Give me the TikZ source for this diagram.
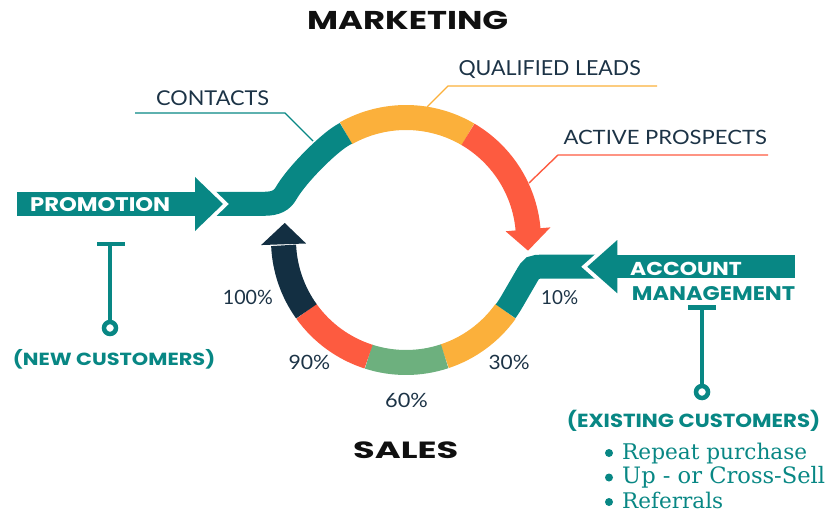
\documentclass[tikz,border=0pt]{standalone}
\usepackage{fontspec}
\usepackage{graphicx}
\usetikzlibrary{calc}

\newfontfamily\lblfont{Lato}
\newfontfamily\hvyfont{Poppins}
\newfontfamily\listfont{DejaVu Serif}

\definecolor{cTeal}{HTML}{088784}
\definecolor{cOrange}{HTML}{FBB03B}
\definecolor{cRed}{HTML}{FD5B40}
\definecolor{cGreen}{HTML}{6DB07E}
\definecolor{cNavy}{HTML}{132F42}
\definecolor{cInk}{HTML}{1C3346}
\definecolor{cBlack}{HTML}{101010}

% scale a piece of text to a given width and height (in pt)
\newcommand\fitbox[3]{\resizebox{#1pt}{#2pt}{#3}}

\begin{document}
\begin{tikzpicture}[x=1pt,y=-1pt,
  seg/.style={line width=25pt},
  band/.style={line width=24pt, cTeal},
  callout/.style={line width=1.4pt},
  tbar/.style={line width=4.5pt, cTeal},
  lbl/.style={inner sep=0pt, anchor=base west},
  head/.style={lbl, text=cBlack},
  tag/.style={lbl, text=cInk}]
\useasboundingbox (0,0) rectangle (829,513);

\coordinate (O) at (406,240);

% ---- cycle ring (upper half) ----
\draw[seg, cOrange] ($(O)+(-119.4:122.5)$) arc[start angle=-119.4, end angle=-59.6, radius=122.5];
\draw[seg, cRed]    ($(O)+(-59.6:122.5)$) arc[start angle=-59.6, end angle=-4, radius=122.5];
\fill[cRed] ($(O)+(-5:100)$) -- ($(O)+(5:122.5)$) -- ($(O)+(-5:145)$) -- cycle;

% ---- cycle ring (lower half) ----
\draw[seg, cOrange] ($(O)+(71.6:122.5)$) arc[start angle=71.6, end angle=35.6, radius=122.5];
\draw[seg, cGreen]  ($(O)+(107.8:122.5)$) arc[start angle=107.8, end angle=71.6, radius=122.5];
\draw[seg, cRed]    ($(O)+(144.4:122.5)$) arc[start angle=144.4, end angle=107.8, radius=122.5];
\draw[seg, cNavy]   ($(O)+(144.4:122.5)$) arc[start angle=144.4, end angle=177.5, radius=122.5];
\fill[cNavy] ($(O)+(178:100)$) -- ($(O)+(188:122.5)$) -- ($(O)+(178:145)$) -- cycle;

% ---- incoming bands, each merging into the ring ----
\draw[band] (205,203.8) -- (264,203.8) .. controls (276,203.8) and (282,200.3) .. (286,193.4)
  .. controls (297,174.3) and (327.5,144.6) .. ($(O)+(-122:122.5)$)
  arc[start angle=-122, end angle=-119.4, radius=122.5];
\draw[band] ($(O)+(35.6:122.5)$) arc[start angle=35.6, end angle=30, radius=122.5]
  -- (526.1,277.1) .. controls (532.1,266.7) .. (544.1,266.7) -- (600,266.7);

% ---- promotion arrow ----
\draw[white, line width=8pt, line join=miter] (195,177) -- (223,204) -- (195,231) -- cycle;
\fill[cTeal] (17,192) rectangle (195,215.5);
\fill[cTeal] (195,177) -- (223,204) -- (195,231) -- cycle;

% ---- account management arrow ----
\draw[white, line width=8pt, line join=miter] (617.3,240) -- (587.3,266.7) -- (617.3,293.3) -- cycle;
\fill[cTeal] (617.3,255) rectangle (795,278.3);
\fill[cTeal] (617.3,240) -- (587.3,266.7) -- (617.3,293.3) -- cycle;

% ---- T markers ----
\draw[tbar] (97,244) -- (125,244);
\draw[tbar] (110,244) -- (110,322);
\draw[tbar] (110,328) circle[radius=6];
\draw[tbar] (688,307.3) -- (716,307.3);
\draw[tbar] (702,307.3) -- (702,386);
\draw[tbar] (702,392) circle[radius=6];

% ---- callout lines ----
\coordinate (cA) at (135,113);   \coordinate (cB) at (285,113);   \coordinate (cC) at (313,141);
\coordinate (qA) at (427,107);   \coordinate (qB) at (448,86);    \coordinate (qC) at (657,86);
\coordinate (aA) at (768,155);   \coordinate (aB) at (558,155);   \coordinate (aC) at (529,183);
\draw[callout, cTeal]   (cA) -- (cB) -- (cC);
\draw[callout, cOrange] (qA) -- (qB) -- (qC);
\draw[callout, cRed]    (aA) -- (aB) -- (aC);

% ---- headings ----
\node[head] (marketing) at (307,30)    {\fitbox{201}{18.3}{\hvyfont\bfseries MARKETING}};
\node[head] (sales)     at (353,458.3) {\fitbox{105}{16.7}{\hvyfont\bfseries SALES}};

% ---- stage labels ----
\node[tag] (contacts)  at (156,105.5) {\fitbox{113}{14.8}{\lblfont CONTACTS}};
\node[tag] (qualified) at (458.3,76)  {\fitbox{182.3}{15}{\lblfont QUALIFIED LEADS}};
\node[tag] (active)    at (563.3,145) {\fitbox{203.3}{14.3}{\lblfont ACTIVE PROSPECTS}};

% ---- percentages ----
\node[tag] (p100) at (222.7,304.3) {\fitbox{50}{14.3}{\lblfont 100\%}};
\node[tag] (p90)  at (288.3,369.3) {\fitbox{41.7}{14.3}{\lblfont 90\%}};
\node[tag] (p60)  at (385,407.7)   {\fitbox{42.7}{14.3}{\lblfont 60\%}};
\node[tag] (p30)  at (488.3,369.3) {\fitbox{41}{14.3}{\lblfont 30\%}};
\node[tag] (p10)  at (541,304)     {\fitbox{37}{14}{\lblfont 10\%}};

% ---- arrow captions ----
\node[lbl, text=white] (promo)   at (30,211.7)    {\fitbox{140}{14}{\hvyfont\bfseries PROMOTION}};
\node[lbl, text=white] (account) at (630,275)     {\fitbox{111.7}{13.3}{\hvyfont\bfseries ACCOUNT}};
\node[lbl, text=cTeal] (manage)  at (631.7,300.7) {\fitbox{163.3}{14}{\hvyfont\bfseries MANAGEMENT}};

\node[lbl, text=cTeal] (newc)  at (12.7,365)   {\fitbox{202.3}{12.5}{\hvyfont\bfseries\smash{(}NEW CUSTOMERS\smash{)}}};
\node[lbl, text=cTeal] (existc) at (566.7,427.5) {\fitbox{253.3}{13.5}{\hvyfont\bfseries\smash{(}EXISTING CUSTOMERS\smash{)}}};

% ---- existing customer list ----
\foreach \yy in {453,477.5,502} \fill[cTeal] (609,\yy) circle[radius=4];
\node[lbl, text=cTeal] (li1) at (622,459) {\resizebox{185pt}{!}{\listfont Repeat purchase}};
\node[lbl, text=cTeal] (li2) at (622,483.5) {\resizebox{203pt}{!}{\listfont Up - or Cross-Sell}};
\node[lbl, text=cTeal] (li3) at (622,508) {\resizebox{101pt}{!}{\listfont Referrals}};
\end{tikzpicture}
\end{document}
